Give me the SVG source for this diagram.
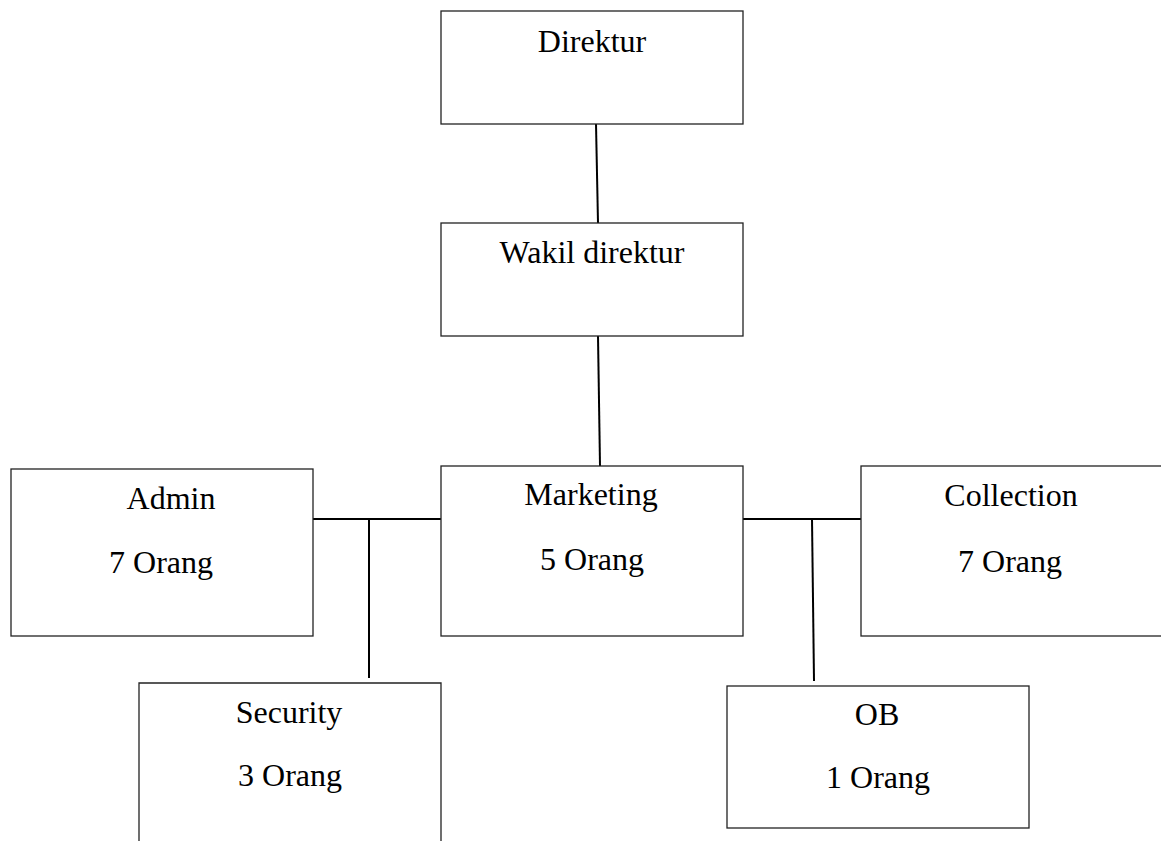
<svg xmlns="http://www.w3.org/2000/svg" width="1161" height="841" viewBox="0 0 1161 841">
<style>
.box{fill:#ffffff;stroke:#222222;stroke-width:1.3}
.edge{fill:none;stroke:#000000;stroke-width:2}
text{font-family:"Liberation Serif","Times New Roman",serif;font-size:32px;fill:#000000;text-anchor:middle}
</style>
<rect width="1161" height="841" fill="#ffffff"/>
<g id="connectors">
<line class="edge" x1="596" y1="124" x2="598" y2="223"/>
<line class="edge" x1="598" y1="336" x2="600" y2="466"/>
<line class="edge" x1="313" y1="519" x2="441" y2="519"/>
<line class="edge" x1="369" y1="519" x2="369" y2="678"/>
<line class="edge" x1="743" y1="519" x2="865" y2="519"/>
<line class="edge" x1="812" y1="519" x2="814" y2="681"/>
</g>
<g id="direktur">
<rect class="box" x="441" y="11" width="302" height="113"/>
<text x="592" y="52">Direktur</text>
</g>
<g id="wakil">
<rect class="box" x="441" y="223" width="302" height="113"/>
<text x="592" y="263">Wakil direktur</text>
</g>
<g id="admin">
<rect class="box" x="11" y="469" width="302" height="167"/>
<text x="171" y="509">Admin</text>
<text x="161" y="573">7 Orang</text>
</g>
<g id="marketing">
<rect class="box" x="441" y="466" width="302" height="170"/>
<text x="591" y="505">Marketing</text>
<text x="592" y="570">5 Orang</text>
</g>
<g id="collection">
<rect class="box" x="861" y="466" width="320" height="170"/>
<text x="1011" y="506">Collection</text>
<text x="1010" y="572">7 Orang</text>
</g>
<g id="security">
<path class="box" d="M139,845 L139,683 L441,683 L441,845"/>
<text x="289" y="723">Security</text>
<text x="290" y="786">3 Orang</text>
</g>
<g id="ob">
<rect class="box" x="727" y="686" width="302" height="142"/>
<text x="877" y="725">OB</text>
<text x="878" y="788">1 Orang</text>
</g>
</svg>
